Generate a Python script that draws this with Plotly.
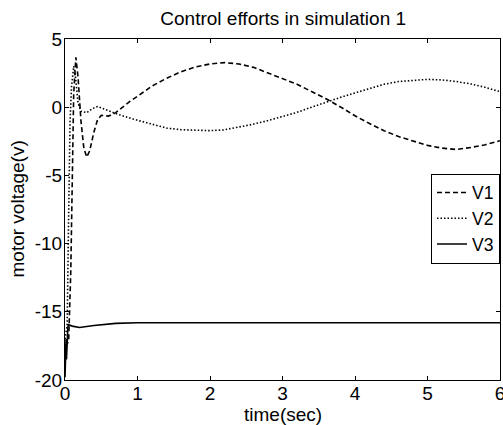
import plotly.graph_objects as go

# ---- data ----
t1 = [0, 0.05, 0.08, 0.10, 0.12, 0.15, 0.18, 0.22, 0.26, 0.30, 0.34, 0.40, 0.45, 0.50, 0.60,
      0.70, 0.80, 0.90, 1.0, 1.2, 1.4, 1.6, 1.8, 2.0, 2.2, 2.4, 2.6, 2.8, 3.0, 3.2, 3.4, 3.6,
      3.8, 4.0, 4.2, 4.4, 4.6, 4.8, 5.0, 5.2, 5.4, 5.6, 5.8, 6.0]
v1 = [-17.5, -17.2, -12.0, -4.0, 1.0, 3.65, 2.2, -1.0, -3.0, -3.65, -3.2, -1.8, -0.9, -0.6, -0.65,
      -0.4, 0.05, 0.45, 0.8, 1.55, 2.12, 2.6, 2.95, 3.17, 3.27, 3.17, 2.92, 2.52, 2.12, 1.68, 1.15, 0.62,
      0.02, -0.63, -1.2, -1.72, -2.15, -2.5, -2.8, -3.0, -3.1, -2.95, -2.75, -2.46]

t2 = [0, 0.03, 0.05, 0.07, 0.09, 0.12, 0.14, 0.18, 0.22, 0.30, 0.38, 0.45, 0.55, 0.69, 0.94,
      1.2, 1.4, 1.6, 1.86, 2.0, 2.18, 2.4, 2.55, 2.8, 3.0, 3.2, 3.4, 3.6, 3.8, 4.0, 4.2, 4.4,
      4.6, 4.8, 5.0, 5.2, 5.4, 5.6, 5.8, 6.0]
v2 = [-17.0, -16.0, -8.0, -1.0, 1.5, 3.0, 2.5, 0.3, -0.3, -0.4, -0.1, 0.05, -0.15, -0.45, -0.87,
      -1.25, -1.53, -1.65, -1.72, -1.72, -1.67, -1.48, -1.3, -0.98, -0.7, -0.38, 0.0, 0.38, 0.72, 1.05, 1.38, 1.68,
      1.88, 1.98, 2.04, 2.0, 1.88, 1.7, 1.45, 1.14]

t3 = [0, 0.005, 0.01, 0.015, 0.02, 0.03, 0.04, 0.05, 0.1, 0.2, 0.4, 0.7, 1.0, 2.0, 3.0, 4.0, 5.0, 6.0]
v3 = [-19.8, -17.5, -19.3, -17.0, -18.5, -16.3, -16.1, -15.95, -16.05, -16.15, -16.0, -15.85, -15.8,
      -15.8, -15.8, -15.8, -15.8, -15.8]

names = ["V1", "V2", "V3"]
x_ticks = [0, 1, 2, 3, 4, 5, 6]
y_ticks = [5, 0, -5, -10, -15, -20]

FONT = "Liberation Sans, Arial, sans-serif"
FS = 19
W, H = 503, 425
ML, MR, MT, MB = 65, 3, 39, 45

fig = go.Figure()
fig.add_trace(go.Scatter(x=t1, y=v1, mode="lines", name=names[0],
                         line=dict(color="black", width=1.6, dash="5px,3px")))
fig.add_trace(go.Scatter(x=t2, y=v2, mode="lines", name=names[1],
                         line=dict(color="black", width=1.6, dash="1.5px,2px")))
fig.add_trace(go.Scatter(x=t3, y=v3, mode="lines", name=names[2],
                         line=dict(color="black", width=1.6)))

axis_common = dict(showline=True, linecolor="black", linewidth=1, mirror="ticks",
                   ticks="inside", ticklen=4, tickcolor="black", showgrid=False,
                   zeroline=False, ticklabeloverflow="allow",
                   tickfont=dict(family=FONT, size=FS, color="black"))

pw = W - ML - MR
ph = H - MT - MB

fig.update_layout(
    width=W, height=H,
    margin=dict(l=ML, r=MR, t=MT, b=MB, autoexpand=False),
    paper_bgcolor="white", plot_bgcolor="white",
    font=dict(family=FONT, size=FS, color="black"),
    title=dict(text="Control efforts in simulation 1", x=0.563, xanchor="center",
               y=1 - 18 / H, yanchor="middle", font=dict(family=FONT, size=FS, color="black")),
    xaxis=dict(range=[0, 6], tickvals=x_ticks, ticktext=[str(v) for v in x_ticks],
               ticklabelstandoff=-4, **axis_common),
    yaxis=dict(range=[-20, 5], tickvals=y_ticks, ticktext=[str(v) for v in y_ticks],
               ticklabelstandoff=-2, **axis_common),
    legend=dict(x=1.0, xanchor="right", y=0.605, yanchor="top",
                bordercolor="black", borderwidth=1, bgcolor="white",
                font=dict(family=FONT, size=17.5, color="black"),
                itemwidth=30, tracegroupgap=0),
    showlegend=True,
    annotations=[
        dict(text="time(sec)", xref="paper", yref="paper", x=0.5, y=-(415 - MT - ph) / ph,
             xanchor="center", yanchor="middle", showarrow=False,
             font=dict(family=FONT, size=FS, color="black")),
        dict(text="motor voltage(v)", xref="paper", yref="paper", x=-(ML - 17) / pw, y=0.5,
             xanchor="center", yanchor="middle", textangle=-90, showarrow=False,
             font=dict(family=FONT, size=FS, color="black")),
    ],
)

fig.write_html("out.html", config={"displayModeBar": False},
               post_script="document.body.style.margin='0';document.body.style.overflow='hidden';")
